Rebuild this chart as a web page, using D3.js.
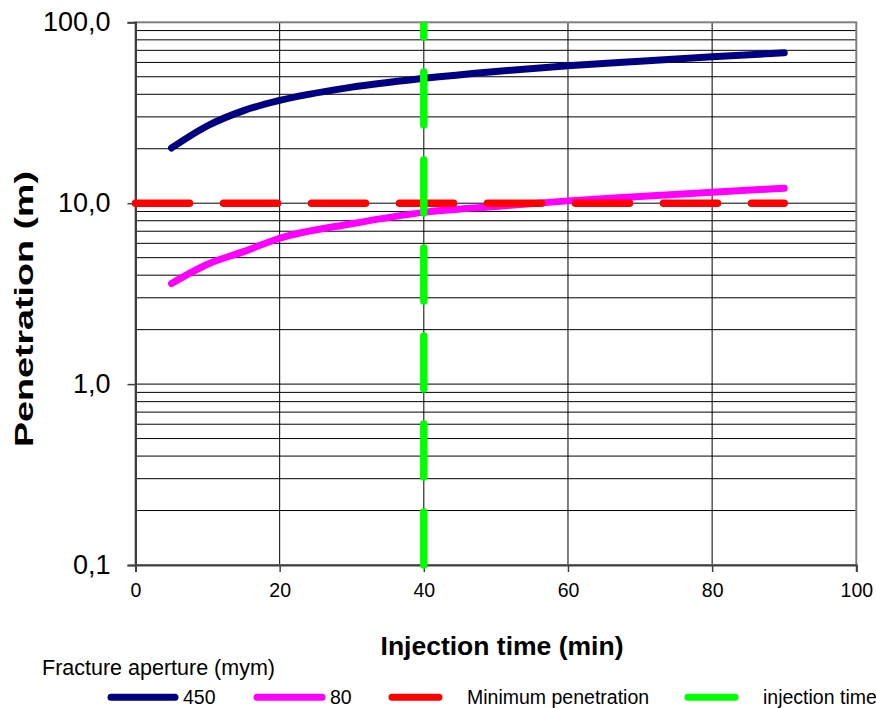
<!DOCTYPE html>
<html><head><meta charset="utf-8">
<script src="https://cdn.jsdelivr.net/npm/d3@7"></script>
<style>body{margin:0;background:#fff}svg{display:block}text{font-family:"Liberation Sans",Arial,sans-serif}</style>
</head><body><svg id="c" width="876" height="708"></svg>
<script>
const timeMin = [5,10,15,20,30,40,50,60,70,80,90];
const pen450 = [20.2,26.8,32.5,37.0,43.8,49.0,53.5,57.5,61.0,64.5,67.8];
const pen80 = [3.6,4.6,5.4,6.4,7.7,8.9,9.6,10.3,10.9,11.5,12.1];
const minPenX = [0,90];
const minPenY = [10,10];
const injX = [40,40];
const injY = [0.1,100];
const xTicks = [0,20,40,60,80,100];
const yTicks = [0.1,1,10,100];
const yTickLabels = ["0,1","1,0","10,0","100,0"];
const legendTitle = "Fracture aperture (mym)";
const legendNames = ["450","80","Minimum penetration","injection time"];
const colors = ["#000080","#ff00ff","#ff0000","#00ff00"];

const svg = d3.select("#c");
const L=135.5,R=856.3,T=22.3,B=565;
const x = d3.scaleLinear().domain([0,100]).range([L,R]);
const y = d3.scaleLog().domain([0.1,100]).range([B,T]);

// grid
const minor=[];
for(let d=-1;d<2;d++){for(let k=1;k<=9;k++){const v=k*Math.pow(10,d); if(v>0.1&&v<100) minor.push(v);}}
svg.append("g").selectAll("line").data(minor).join("line")
 .attr("x1",L).attr("x2",R).attr("y1",d=>y(d)).attr("y2",d=>y(d))
 .attr("stroke","#000").attr("stroke-width",1);
svg.append("g").selectAll("line").data(xTicks.slice(1,-1)).join("line")
 .attr("x1",d=>x(d)).attr("x2",d=>x(d)).attr("y1",T).attr("y2",B)
 .attr("stroke","#000").attr("stroke-width",1);
// border
svg.append("rect").attr("x",L).attr("y",T).attr("width",R-L).attr("height",B-T)
 .attr("fill","none").attr("stroke","#808080").attr("stroke-width",2);
// axes
const yAxis = d3.axisLeft(y).tickValues(yTicks).tickSize(8).tickFormat((d,i)=>yTickLabels[i]);
const gy = svg.append("g").attr("transform",`translate(${L},0)`).call(yAxis);
gy.select(".domain").attr("stroke","#404040").attr("stroke-width",2);
gy.selectAll(".tick line").attr("stroke","#404040").attr("stroke-width",1.5);
gy.selectAll(".tick text").attr("x",-25).attr("font-size",27).attr("fill","#000").style("font-family","Liberation Sans, Arial");
const xAxis = d3.axisBottom(x).tickValues(xTicks).tickSize(7).tickPadding(11);
const gx = svg.append("g").attr("transform",`translate(0,${B})`).call(xAxis);
gx.select(".domain").attr("stroke","#404040").attr("stroke-width",2);
gx.selectAll(".tick line").attr("stroke","#404040").attr("stroke-width",1.5);
gx.selectAll(".tick text").attr("font-size",19.5).attr("fill","#000").style("font-family","Liberation Sans, Arial");

// clip
svg.append("clipPath").attr("id","clp").append("rect").attr("x",0).attr("y",T).attr("width",876).attr("height",B-T+4);

const line = d3.line().x(d=>x(d[0])).y(d=>y(d[1])).curve(d3.curveMonotoneX);
const lineS = d3.line().x(d=>x(d[0])).y(d=>y(d[1]));
svg.append("path").datum(timeMin.map((t,i)=>[t,pen450[i]])).attr("d",line)
 .attr("fill","none").attr("stroke",colors[0]).attr("stroke-width",7).attr("stroke-linecap","round").attr("stroke-linejoin","round");
svg.append("path").datum(timeMin.map((t,i)=>[t,pen80[i]])).attr("d",line)
 .attr("fill","none").attr("stroke",colors[1]).attr("stroke-width",7).attr("stroke-linecap","round").attr("stroke-linejoin","round");
svg.append("path").datum(minPenX.map((t,i)=>[t,minPenY[i]])).attr("d",lineS)
 .attr("fill","none").attr("stroke",colors[2]).attr("stroke-width",7.5).attr("stroke-linecap","round").attr("stroke-dasharray","54,34");
svg.append("path").datum(injX.map((t,i)=>[t,injY[i]])).attr("d",lineS).attr("clip-path","url(#clp)")
 .attr("fill","none").attr("stroke",colors[3]).attr("stroke-width",7.5).attr("stroke-linecap","round").attr("stroke-dasharray","53,35");

// titles
svg.append("text").attr("transform","translate(33,309) rotate(-90)").attr("text-anchor","middle")
 .attr("font-size",26).attr("font-weight","bold")
 .attr("textLength",276).attr("lengthAdjust","spacingAndGlyphs").text("Penetration (m)");
svg.append("text").attr("x",502).attr("y",655).attr("text-anchor","middle")
 .attr("font-size",26.5).attr("font-weight","bold").text("Injection time (min)");

// legend
svg.append("text").attr("x",42).attr("y",675).attr("font-size",21.5).text(legendTitle);
const legX1=[108,254,389,685], legX2=[178,325,442,738], legTx=[183,330,467,763];
const ly=697.3;
legendNames.forEach((n,i)=>{
  svg.append("line").attr("x1",legX1[i]+3).attr("x2",legX2[i]-3).attr("y1",ly).attr("y2",ly)
   .attr("stroke",colors[i]).attr("stroke-width",7).attr("stroke-linecap","round");
  svg.append("text").attr("x",legTx[i]).attr("y",704).attr("font-size",19.5).text(n);
});
</script></body></html>
